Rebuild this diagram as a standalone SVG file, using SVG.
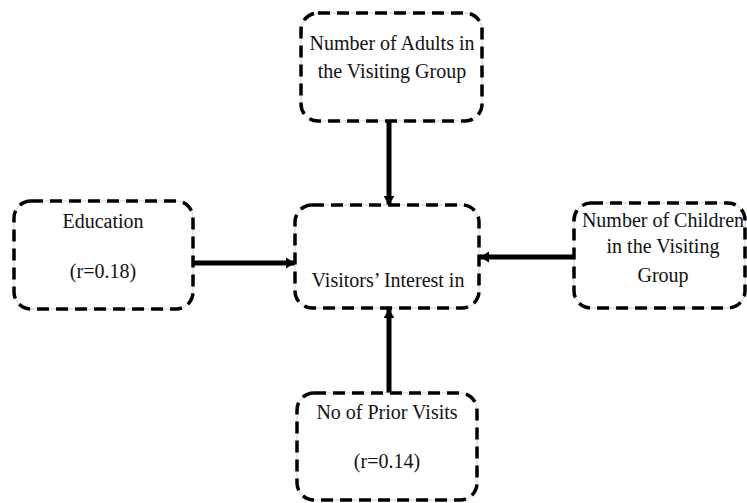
<svg xmlns="http://www.w3.org/2000/svg" width="747" height="503" viewBox="0 0 747 503">
<defs>
<style>
.bg{fill:#fff;stroke:#d0d0d0;stroke-width:1}
.bd{fill:none;stroke:#000;stroke-width:3.5;stroke-dasharray:12 7}
.t{font-family:"Liberation Serif","Times New Roman",serif;font-size:20px;fill:#111;text-anchor:middle}
.c{stroke:#000;stroke-width:5;fill:none}
</style>
<marker id="ah" viewBox="0 0 10 12" refX="10" refY="6" markerWidth="9" markerHeight="13" markerUnits="userSpaceOnUse" orient="auto">
<path d="M0,0 L10,6 L0,12 z" fill="#000"/>
</marker>
</defs>
<rect width="747" height="503" fill="#fff"/>
<g id="connectors">
<line class="c" x1="389" y1="122" x2="389" y2="205" marker-end="url(#ah)"/>
<line class="c" x1="191" y1="263" x2="295" y2="263" marker-end="url(#ah)"/>
<line class="c" x1="575" y1="257" x2="480" y2="257" marker-end="url(#ah)"/>
<line class="c" x1="389" y1="393" x2="389" y2="309" marker-end="url(#ah)"/>
</g>
<g id="adults">
<rect class="bg" x="301" y="13" width="181" height="108" rx="17"/>
<rect class="bd" x="301" y="13" width="181" height="108" rx="17"/>
<text class="t" x="392" y="50">Number of Adults in</text>
<text class="t" x="392" y="78">the Visiting Group</text>
</g>
<g id="education">
<rect class="bg" x="14" y="201" width="179" height="108" rx="17"/>
<rect class="bd" x="14" y="201" width="179" height="108" rx="17"/>
<text class="t" x="103" y="228">Education</text>
<text class="t" x="103" y="278">(r=0.18)</text>
</g>
<g id="interest">
<rect class="bg" x="295" y="205" width="184" height="103" rx="17"/>
<rect class="bd" x="295" y="205" width="184" height="103" rx="17"/>
<text class="t" x="388" y="287">Visitors’ Interest in</text>
</g>
<g id="children">
<rect class="bg" x="574" y="203" width="171" height="105" rx="17"/>
<rect class="bd" x="574" y="203" width="171" height="105" rx="17"/>
<text class="t" x="663" y="227">Number of Children</text>
<text class="t" x="663" y="253">in the Visiting</text>
<text class="t" x="663" y="282">Group</text>
</g>
<g id="visits">
<rect class="bg" x="297" y="393" width="180" height="107" rx="17"/>
<rect class="bd" x="297" y="393" width="180" height="107" rx="17"/>
<text class="t" x="387" y="419">No of Prior Visits</text>
<text class="t" x="387" y="468">(r=0.14)</text>
</g>
</svg>
